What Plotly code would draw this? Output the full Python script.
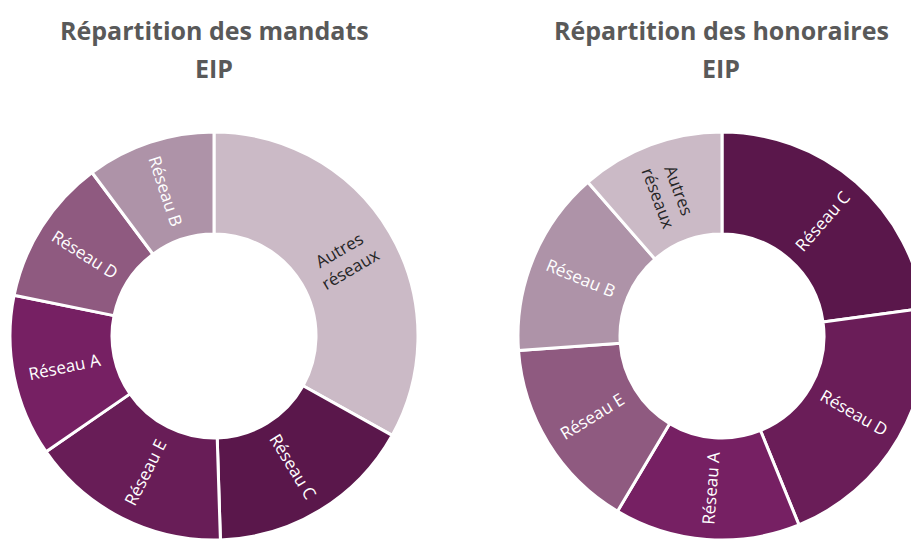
import plotly.graph_objects as go

# Data
labels_mandats = ["Autres<br>réseaux", "Réseau C", "Réseau E", "Réseau A", "Réseau D", "Réseau B"]
values_mandats = [33.1, 16.4, 15.9, 12.8, 11.6, 10.2]
colors_mandats = ["#cbbac6", "#5a174b", "#681d57", "#762063", "#8f5a80", "#ae93a8"]
textcol_mandats = ["#262626", "white", "white", "white", "white", "white"]

labels_honoraires = ["Réseau C", "Réseau D", "Réseau A", "Réseau E", "Réseau B", "Autres<br>réseaux"]
values_honoraires = [22.8, 21.0, 14.7, 15.3, 14.7, 11.4]
colors_honoraires = ["#5a174b", "#6a1d58", "#762063", "#8f5a80", "#ae93a8", "#cbbac6"]
textcol_honoraires = ["white", "white", "white", "white", "white", "#262626"]

titles = ["Répartition des mandats", "Répartition des honoraires"]
subtitle = "EIP"

W, H = 926, 540
HOLE = 0.5
FONT = "Open Sans"


def add_donut(fig, labels, values, colors, textcols, dom):
    # visible ring (no text)
    fig.add_trace(go.Pie(
        labels=[l.replace("<br>", " ") for l in labels], values=values, sort=False,
        direction="clockwise", rotation=0, hole=HOLE, textinfo="none",
        marker=dict(colors=colors, line=dict(color="white", width=3)),
        domain=dom, showlegend=False,
    ))
    # transparent overlay carrying radial labels centred on each slice,
    # kept narrow enough not to straddle 3 or 9 o'clock (where plotly
    # would otherwise switch the label to horizontal)
    total = float(sum(values))
    ov_vals, ov_text, ov_tc = [], [], []
    start = 0.0
    for l, v, tc in zip(labels, values, textcols):
        span = v / total * 360.0
        mid = start + span / 2
        dist = min(abs(mid - a) for a in (90.0, 270.0))
        half_max = max(dist - 1.0, 1.0)
        f = min(0.96, 2 * half_max / span)
        ov_vals += [v * (1 - f) / 2, v * f, v * (1 - f) / 2]
        ov_text += ["", l, ""]
        ov_tc += [tc, tc, tc]
        start += span
    fig.add_trace(go.Pie(
        values=ov_vals, text=ov_text, sort=False, direction="clockwise", rotation=0,
        hole=HOLE, textinfo="text", textposition="inside",
        insidetextorientation="radial",
        marker=dict(colors=["rgba(0,0,0,0)"] * len(ov_vals), line=dict(width=0)),
        textfont=dict(family=FONT, size=17, color=ov_tc),
        domain=dom, showlegend=False, hoverinfo="skip",
    ))


fig = go.Figure()
add_donut(fig, labels_mandats, values_mandats, colors_mandats, textcol_mandats,
          dict(x=[10 / W, 418 / W], y=[0, 408 / H]))
add_donut(fig, labels_honoraires, values_honoraires, colors_honoraires, textcol_honoraires,
          dict(x=[518 / W, 926 / W], y=[0, 408 / H]))

for cx, t in zip([214, 721], titles):
    fig.add_annotation(text=t, x=cx / W, y=1 - 30 / H, xref="paper", yref="paper",
                       showarrow=False, xanchor="center", yanchor="middle",
                       font=dict(family=FONT, size=25, color="#595959", weight="bold"))
    fig.add_annotation(text=subtitle, x=cx / W, y=1 - 68 / H, xref="paper", yref="paper",
                       showarrow=False, xanchor="center", yanchor="middle",
                       font=dict(family=FONT, size=25, color="#595959", weight="bold"))

fig.update_layout(width=W, height=H, margin=dict(l=0, r=0, t=0, b=0),
                  paper_bgcolor="white", plot_bgcolor="white")

fig.write_html("out.html", config={"displayModeBar": False},
               post_script="document.body.style.margin='0';document.body.style.overflow='hidden';")
